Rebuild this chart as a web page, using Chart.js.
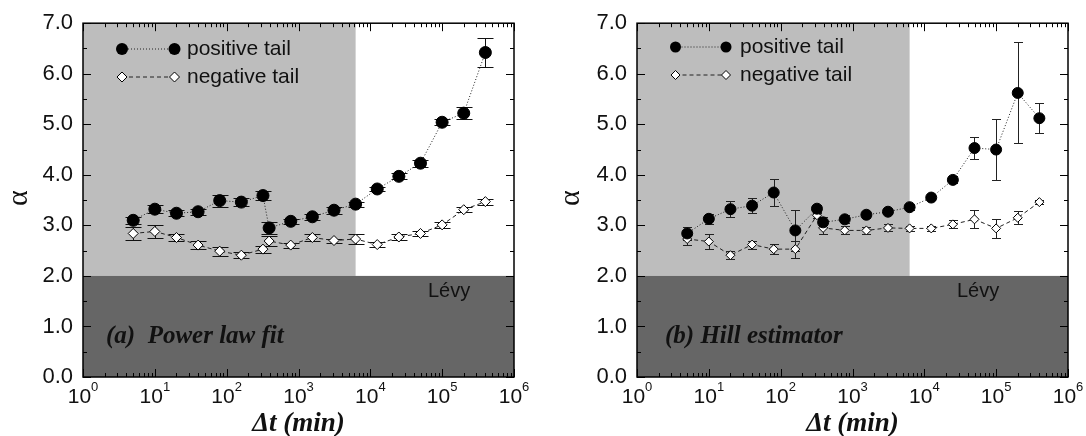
<!DOCTYPE html>
<html><head><meta charset="utf-8">
<script src="https://cdn.jsdelivr.net/npm/chart.js@4.4.0/dist/chart.umd.min.js"></script>
<style>
html,body{margin:0;padding:0;background:#fff;}
#wrap{position:relative;width:1086px;height:436px;overflow:hidden;background:#fff;}
canvas{position:absolute;top:0;}
#c1{left:0}
#c2{left:543px}
</style></head><body>
<div id="wrap"><canvas id="c1" width="543" height="436"></canvas><canvas id="c2" width="543" height="436"></canvas></div>
<script>
const dtMinutes = [5,10,20,40,80,160,320,390,780,1560,3120,6240,12480,24960,49920,99840,199680,399360];
const fitPositive = [3.10,3.32,3.24,3.27,3.49,3.46,3.59,2.95,3.08,3.17,3.30,3.42,3.72,3.97,4.23,5.04,5.22,6.42];
const fitPositiveErr = [0.07,0.08,0.06,0.06,0.12,0.08,0.09,0.12,0.05,0.06,0.07,0.05,0.04,0.06,0.07,0.06,0.12,0.28];
const fitNegative = [2.84,2.88,2.76,2.61,2.49,2.41,2.53,2.69,2.61,2.76,2.70,2.73,2.62,2.77,2.84,3.01,3.31,3.47];
const fitNegativeErr = [0.12,0.13,0.07,0.08,0.09,0.06,0.07,0.10,0.05,0.06,0.04,0.10,0.05,0.05,0.05,0.06,0.05,0.06];
const hillPositive = [2.84,3.13,3.32,3.39,3.65,2.90,3.33,3.06,3.12,3.21,3.27,3.36,3.55,3.90,4.53,4.50,5.62,5.12];
const hillPositiveErr = [0.12,0.10,0.16,0.15,0.26,0.40,0.07,0.10,0.08,0.06,0.05,0.05,0.05,0.07,0.21,0.60,1.00,0.30];
const hillNegative = [2.73,2.68,2.41,2.62,2.53,2.53,3.20,2.95,2.90,2.90,2.95,2.94,2.94,3.02,3.12,2.94,3.15,3.46];
const hillNegativeErr = [0.12,0.14,0.08,0.08,0.10,0.17,0.05,0.13,0.08,0.07,0.07,0.05,0.05,0.08,0.18,0.19,0.13,0.04];
const yTickValues = [0,1,2,3,4,5,6,7];
const xTickExponents = [0,1,2,3,4,5,6];
const seriesLabels = ['positive tail','negative tail'];
const panelLabels = ['(a)  Power law fit','(b) Hill estimator'];
const levyLabel = 'Lévy';
const levyBound = 2.0;
const shadeEnd = 6240;
const xTitle = 'Δt (min)';
const yTitle = 'α';

const SANS = '"Liberation Sans", Arial, Helvetica, sans-serif';
const SERIF = '"Liberation Serif", "Times New Roman", serif';

function drawCircle(ctx, x, y, r){ctx.beginPath();ctx.arc(x,y,r,0,Math.PI*2);ctx.fillStyle='#000';ctx.fill();}
function drawDiamond(ctx, x, y, r){ctx.beginPath();ctx.moveTo(x-r,y);ctx.lineTo(x,y-r);ctx.lineTo(x+r,y);ctx.lineTo(x,y+r);ctx.closePath();ctx.fillStyle='#fff';ctx.fill();ctx.strokeStyle='#000';ctx.lineWidth=1;ctx.stroke();}

const decorPlugin = {
  id: 'decor',
  beforeDatasetsDraw(chart, args, o) {
    const {ctx, chartArea: a, scales: {x, y}} = chart;
    ctx.save();
    ctx.fillStyle = '#ffffff';
    ctx.fillRect(a.left, a.top, a.width, a.height);
    const xs = x.getPixelForValue(shadeEnd);
    const yTop = y.getPixelForValue(7), yL = y.getPixelForValue(levyBound), y0 = y.getPixelForValue(0);
    ctx.fillStyle = '#bdbdbd';
    ctx.fillRect(a.left, yTop, xs - a.left, yL - yTop);
    ctx.fillStyle = '#666666';
    ctx.fillRect(a.left, yL, a.width, y0 - yL);
    ctx.strokeStyle = o.errColor; ctx.lineWidth = 1;
    chart.data.datasets.forEach(d => {
      d.data.forEach(p => {
        const px = Math.round(x.getPixelForValue(p.x)) + 0.5;
        const t = Math.round(y.getPixelForValue(p.y + p.e)) + 0.5;
        const b = Math.round(y.getPixelForValue(p.y - p.e)) + 0.5;
        ctx.beginPath();
        ctx.moveTo(px, t); ctx.lineTo(px, b);
        ctx.moveTo(px - o.cap, t); ctx.lineTo(px + o.cap, t);
        ctx.moveTo(px - o.cap, b); ctx.lineTo(px + o.cap, b);
        ctx.stroke();
      });
    });
    ctx.restore();
  },
  afterDraw(chart, args, o) {
    const {ctx, chartArea: a, scales: {x, y}} = chart;
    ctx.save();
    ctx.strokeStyle = '#000'; ctx.lineWidth = 1;
    ctx.beginPath();
    for (let e = 0; e <= 6; e++) {
      for (let k = 1; k <= 9; k++) {
        if (e === 6 && k > 1) break;
        const v = k * Math.pow(10, e);
        const px = Math.round(x.getPixelForValue(v)) + 0.5;
        const len = k === 1 ? 8 : 4;
        ctx.moveTo(px, a.bottom); ctx.lineTo(px, a.bottom - len);
        ctx.moveTo(px, a.top); ctx.lineTo(px, a.top + len);
      }
    }
    for (let v = 0; v <= 7.001; v += 0.5) {
      const py = Math.round(y.getPixelForValue(v)) + 0.5;
      const len = Math.abs(v - Math.round(v)) < 0.01 ? 8 : 4;
      ctx.moveTo(a.left, py); ctx.lineTo(a.left + len, py);
      ctx.moveTo(a.right, py); ctx.lineTo(a.right - len, py);
    }
    ctx.stroke();
    ctx.lineWidth = 1.5;
    ctx.strokeRect(a.left, a.top, a.width, a.height);
    ctx.fillStyle = '#111';
    ctx.textBaseline = 'alphabetic'; ctx.textAlign = 'left';
    xTickExponents.forEach(e => {
      const px = x.getPixelForValue(Math.pow(10, e));
      ctx.font = '21px ' + SANS; const w1 = ctx.measureText('10').width;
      ctx.font = '13px ' + SANS; const w2 = ctx.measureText(String(e)).width;
      const sx = px - (w1 + w2) / 2;
      ctx.font = '21px ' + SANS; ctx.fillText('10', sx, 403);
      ctx.font = '13px ' + SANS; ctx.fillText(String(e), sx + w1, 391);
    });
    ctx.font = 'italic bold 27px ' + SERIF; ctx.textAlign = 'center';
    ctx.fillText(xTitle, (a.left + a.right) / 2, 431);
    ctx.save();
    ctx.translate(o.alphaX, (a.top + a.bottom) / 2 - 2);
    ctx.rotate(-Math.PI / 2);
    ctx.font = '30px ' + SERIF; ctx.textBaseline = 'middle';
    ctx.fillText(yTitle, 0, 0);
    ctx.restore();
    ctx.textAlign = 'left'; ctx.textBaseline = 'alphabetic';
    ctx.font = '20px ' + SANS; ctx.fillStyle = '#111';
    ctx.fillText(levyLabel, o.levyX, 297);
    ctx.font = 'italic bold 25px ' + SERIF;
    ctx.fillText(o.panel, o.panelX, 343);
    const l1 = a.left + o.legX1, l2 = a.left + o.legX2, tx = a.left + o.legTX;
    ctx.strokeStyle = '#222'; ctx.lineWidth = 1;
    ctx.setLineDash([1, 2]);
    ctx.beginPath(); ctx.moveTo(l1, o.legY1); ctx.lineTo(l2, o.legY1); ctx.stroke();
    ctx.setLineDash([4, 3]);
    ctx.beginPath(); ctx.moveTo(l1, o.legY2); ctx.lineTo(l2, o.legY2); ctx.stroke();
    ctx.setLineDash([]);
    drawCircle(ctx, l1, o.legY1, o.cr); drawCircle(ctx, l2, o.legY1, o.cr);
    drawDiamond(ctx, l1, o.legY2, o.dr); drawDiamond(ctx, l2, o.legY2, o.dr);
    ctx.fillStyle = '#111'; ctx.font = '21px ' + SANS; ctx.textBaseline = 'middle';
    ctx.fillText(seriesLabels[0], tx, o.legY1);
    ctx.fillText(seriesLabels[1], tx, o.legY2);
    ctx.restore();
  }
};

function makePanel(id, pos, posErr, neg, negErr, p) {
  const mk = (vals, errs) => dtMinutes.map((xv, i) => ({x: xv, y: vals[i], e: errs[i]}));
  return new Chart(document.getElementById(id), {
    type: 'line',
    data: {
      datasets: [
        {label: seriesLabels[0], data: mk(pos, posErr), borderColor: '#222', borderWidth: 1, borderDash: [1, 2],
         pointStyle: 'circle', pointRadius: p.cr, pointBackgroundColor: '#000', pointBorderColor: '#000', pointBorderWidth: 1, fill: false, tension: 0},
        {label: seriesLabels[1], data: mk(neg, negErr), borderColor: '#222', borderWidth: 1, borderDash: [4, 3],
         pointStyle: 'rectRot', pointRadius: p.dr, pointBackgroundColor: '#fff', pointBorderColor: '#000', pointBorderWidth: 1, fill: false, tension: 0}
      ]
    },
    options: {
      responsive: false, animation: false, devicePixelRatio: 1,
      layout: {padding: {top: 18, right: p.padRight, left: 0, bottom: 0}},
      plugins: {legend: {display: false}, tooltip: {enabled: false}, title: {display: false}, decor: p},
      scales: {
        x: {type: 'logarithmic', min: 1, max: 1e6, grid: {display: false, drawTicks: false}, border: {display: false},
            ticks: {display: false}, afterFit: s => { s.height = 59; s.paddingLeft = 0; s.paddingRight = 0; }},
        y: {type: 'linear', min: 0, max: 7, grid: {display: false, drawTicks: false}, border: {display: false},
            ticks: {stepSize: 1, padding: 10, color: '#111', font: {family: SANS, size: 22},
                    callback: v => yTickValues.includes(v) ? v.toFixed(1) : ''},
            afterFit: s => { s.width = p.yWidth; }}
      }
    },
    plugins: [decorPlugin]
  });
}

makePanel('c1', fitPositive, fitPositiveErr, fitNegative, fitNegativeErr,
  {yWidth: 83, padRight: 29, cr: 6, dr: 5, cap: 8, errColor: '#111', alphaX: 19,
   levyX: 428, panel: panelLabels[0], panelX: 106,
   legX1: 39, legX2: 91.5, legTX: 104, legY1: 49, legY2: 77});
makePanel('c2', hillPositive, hillPositiveErr, hillNegative, hillNegativeErr,
  {yWidth: 94, padRight: 18, cr: 5.5, dr: 4.5, cap: 4.5, errColor: '#222', alphaX: 28,
   levyX: 957 - 543, panel: panelLabels[1], panelX: 665 - 543,
   legX1: 38.5, legX2: 89, legTX: 103, legY1: 47, legY2: 75});
</script>
</body></html>
